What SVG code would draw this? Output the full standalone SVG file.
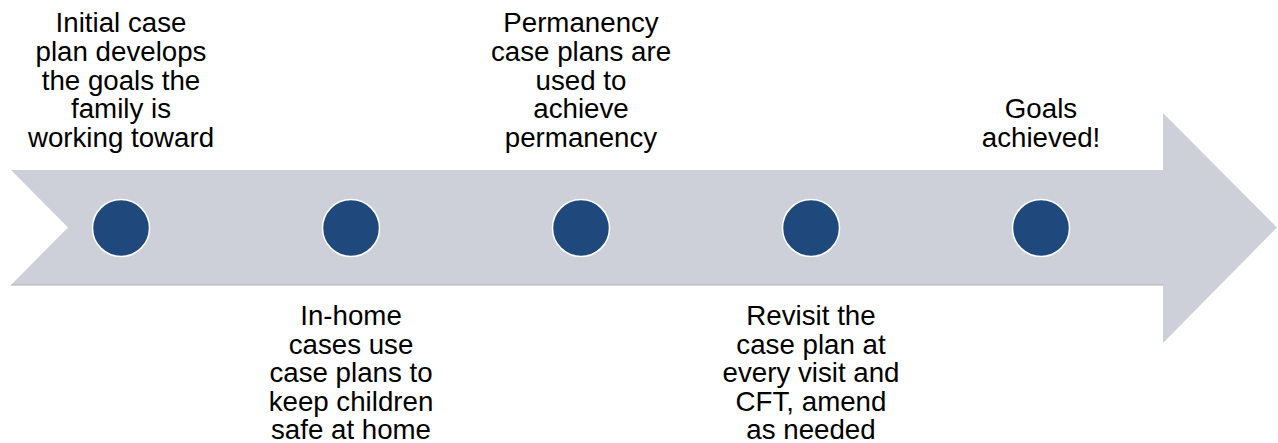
<svg xmlns="http://www.w3.org/2000/svg" width="1278" height="443" viewBox="0 0 1278 443">
  <style>
    .band { fill: #cdd0d8; }
    .edge { stroke: #abadb3; stroke-width: 1.2; fill: none; }
    .dot { fill: #1f497d; stroke: #ffffff; stroke-width: 1.5; }
    .label { font-family: "Liberation Sans", Arial, sans-serif; font-size: 27.7px; fill: #000000; text-anchor: middle; }
  </style>

  <!-- timeline arrow band -->
  <g id="timeline">
    <path class="band" d="M11,170 L1163,170 L1163,113 L1277,227.5 L1163,343 L1163,285 L11,285 L68,227.5 Z"/>
    <path class="edge" d="M11,285 L1163,285"/>
  </g>

  <!-- milestone markers -->
  <g id="milestone-1"><circle class="dot" cx="121" cy="228" r="28.5"/></g>
  <g id="milestone-2"><circle class="dot" cx="351" cy="228" r="28.5"/></g>
  <g id="milestone-3"><circle class="dot" cx="581" cy="228" r="28.5"/></g>
  <g id="milestone-4"><circle class="dot" cx="811" cy="228" r="28.5"/></g>
  <g id="milestone-5"><circle class="dot" cx="1041" cy="228" r="28.5"/></g>

  <!-- captions -->
  <g id="caption-1">
    <text class="label" x="121" y="32">Initial case</text>
    <text class="label" x="121" y="61">plan develops</text>
    <text class="label" x="121" y="90">the goals the</text>
    <text class="label" x="121" y="118">family is</text>
    <text class="label" x="121" y="147">working toward</text>
  </g>
  <g id="caption-2">
    <text class="label" x="351" y="325">In-home</text>
    <text class="label" x="351" y="354">cases use</text>
    <text class="label" x="351" y="382">case plans to</text>
    <text class="label" x="351" y="411">keep children</text>
    <text class="label" x="351" y="439">safe at home</text>
  </g>
  <g id="caption-3">
    <text class="label" x="581" y="32">Permanency</text>
    <text class="label" x="581" y="61">case plans are</text>
    <text class="label" x="581" y="90">used to</text>
    <text class="label" x="581" y="118">achieve</text>
    <text class="label" x="581" y="147">permanency</text>
  </g>
  <g id="caption-4">
    <text class="label" x="811" y="325">Revisit the</text>
    <text class="label" x="811" y="354">case plan at</text>
    <text class="label" x="811" y="382">every visit and</text>
    <text class="label" x="811" y="411">CFT, amend</text>
    <text class="label" x="811" y="439">as needed</text>
  </g>
  <g id="caption-5">
    <text class="label" x="1041" y="118">Goals</text>
    <text class="label" x="1041" y="147">achieved!</text>
  </g>
</svg>
